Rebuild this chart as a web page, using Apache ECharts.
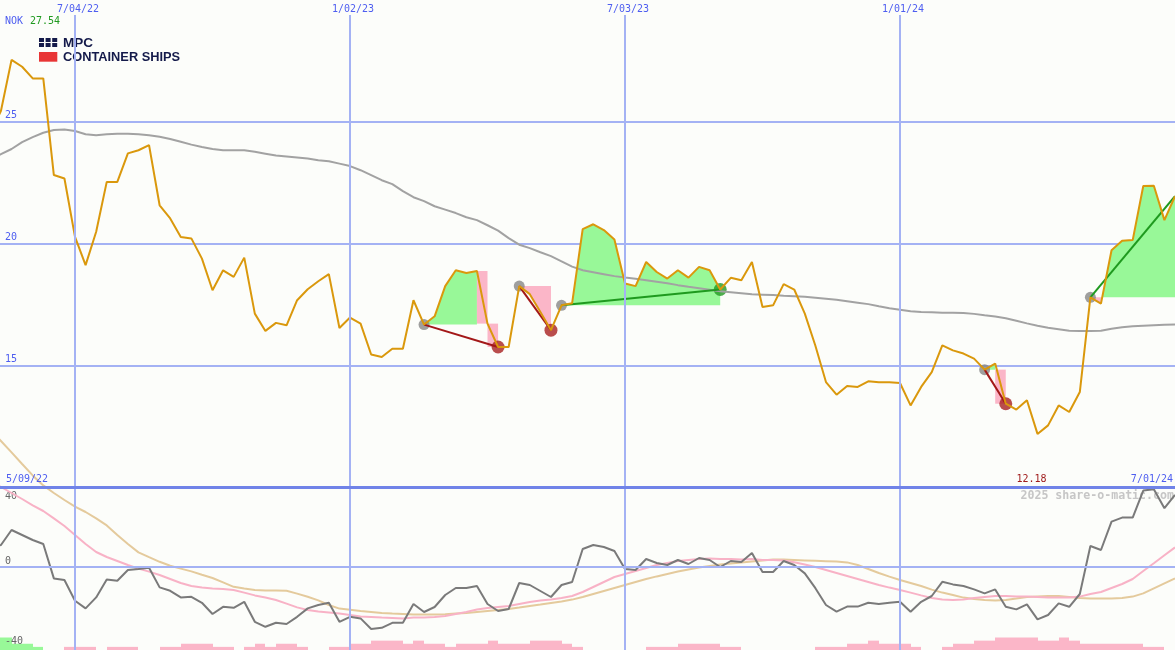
<!DOCTYPE html>
<html><head><meta charset="utf-8">
<script src="https://cdn.jsdelivr.net/npm/echarts@6/dist/echarts.min.js"></script>
<style>html,body{margin:0;padding:0;background:#fcfdfa}#c{width:1175px;height:650px}</style>
</head><body><div id="c"></div>
<script>
// ---------- DATA (weekly, index 0 = 5/09/22 ... index 112 = 7/01/24) ----------
const startDate = '5/09/22';
const endDate = '7/01/24';
const currency = 'NOK';
const dateTicks = ['7/04/22', '1/02/23', '7/03/23', '1/01/24'];
const dateTickIdx = [8, 34, 60, 86];
const priceTicks = [15, 20, 25];
const oscTicksTop = [40];
const oscTicksLow = [0, -40];

const price = [24.5, 25.45, 27.54, 27.26, 26.78, 26.78, 22.81, 22.67, 20.27, 19.11,
  20.48, 22.53, 22.53, 23.70, 23.83, 24.04, 21.57, 21.03, 20.27, 20.21,
  19.38, 18.08, 18.90, 18.63, 19.42, 17.12, 16.41, 16.74, 16.64, 17.67,
  18.12, 18.45, 18.74, 16.53, 16.96, 16.71, 15.44, 15.34, 15.68, 15.68,
  17.67, 16.67, 17.01, 18.25, 18.90, 18.79, 18.87, 16.71, 15.75, 15.75,
  18.25, 17.92, 17.19, 16.44, 17.46, 17.55, 20.59, 20.79, 20.55, 20.16,
  18.36, 18.25, 19.24, 18.83, 18.56, 18.90, 18.60, 19.04, 18.90, 18.11,
  18.59, 18.49, 19.24, 17.39, 17.46, 18.33, 18.11, 17.12, 15.80, 14.31,
  13.79, 14.15, 14.11, 14.34, 14.30, 14.30, 14.27, 13.35, 14.11, 14.72,
  15.82, 15.61, 15.48, 15.27, 14.82, 15.07, 13.42, 13.18, 13.56, 12.18,
  12.53, 13.35, 13.08, 13.90, 17.79, 17.53, 19.72, 20.11, 20.14, 22.36,
  22.37, 20.96, 21.94];

const movingAvg = [23.46, 23.67, 23.88, 24.16, 24.37, 24.55, 24.66, 24.68, 24.62, 24.49,
  24.45, 24.49, 24.51, 24.51, 24.49, 24.45, 24.38, 24.29, 24.18, 24.06,
  23.96, 23.88, 23.83, 23.83, 23.83, 23.77, 23.69, 23.61, 23.57, 23.53,
  23.49, 23.42, 23.38, 23.28, 23.18, 23.01, 22.81, 22.60, 22.44, 22.15,
  21.90, 21.74, 21.53, 21.39, 21.25, 21.08, 20.96, 20.75, 20.53, 20.22,
  19.95, 19.81, 19.64, 19.48, 19.27, 19.05, 18.90, 18.82, 18.74, 18.66,
  18.60, 18.55, 18.49, 18.43, 18.37, 18.29, 18.22, 18.16, 18.10, 18.04,
  18.00, 17.96, 17.92, 17.90, 17.88, 17.85, 17.83, 17.81, 17.77, 17.73,
  17.69, 17.63, 17.57, 17.51, 17.42, 17.34, 17.28, 17.22, 17.19, 17.18,
  17.16, 17.16, 17.15, 17.11, 17.05, 17.00, 16.93, 16.83, 16.72, 16.62,
  16.54, 16.48, 16.42, 16.41, 16.41, 16.42, 16.50, 16.56, 16.60, 16.62,
  16.64, 16.66, 16.67];

const oscillator = [9.5, 11, 18.5, 16, 13.5, 11.5, -5.7, -6.5, -16.9, -20.7,
  -15.2, -6.2, -6.9, -1.5, -1, -0.4, -10.2, -11.9, -15.2, -14.9,
  -17.9, -23.5, -19.9, -20.4, -17.4, -27.4, -29.9, -27.9, -28.5, -24.9,
  -20.7, -19, -17.9, -27.4, -24.9, -25.7, -31, -30.4, -27.9, -27.9,
  -18.5, -22.5, -20, -14, -10.5, -10.5, -9.5, -18.5, -22, -21,
  -8, -9, -12, -15, -9, -7.5, 9, 11, 10, 8,
  -1, -1.5, 4, 2, 1, 3.5, 1.5, 4.5, 3.5, 0,
  3, 2.5, 7, -2.5, -2.5, 3, 1, -3.2, -10.6, -19,
  -22.3, -19.8, -19.8, -17.9, -18.5, -17.9, -17.4, -22.4, -17.4, -14.5,
  -7.4, -8.7, -9.5, -11.2, -13.2, -11.2, -19.9, -21.2, -18.7, -26.2,
  -24, -18.2, -19.9, -13.5, 10.5, 8.5, 22.7, 24.7, 24.7, 38.2,
  38.9, 29.4, 36];

const oscFast = [42.5, 40, 37, 34, 30.8, 28, 24.3, 20.5, 16, 11.5,
  7.5, 5, 3, 1, -0.8, -2.3, -4, -6, -8, -9.5,
  -10.3, -10.7, -11, -11.5, -12.8, -14.2, -15.3, -16.5, -18.3, -20.2,
  -21.5, -22.3, -22.8, -23.3, -24, -24.7, -25, -25.3, -25.5, -25.7,
  -25.3, -25.2, -25, -24.5, -23.5, -22.5, -21.3, -20.5, -20, -19.5,
  -18.5, -17.5, -16.8, -16.3, -15.5, -14.5, -12.5, -10, -7.5, -5,
  -3.5, -2, -0.5, 1, 2, 3, 3.5, 4, 4.2, 4,
  4, 3.8, 4, 3.5, 3.5, 3.2, 2.4, 1.2, 0, -1.5,
  -3, -4.5, -6, -7.5, -9, -10.3, -11.5, -12.8, -14.2, -15.5,
  -16.3, -16.5, -16.2, -15.5, -15, -14.5, -14.5, -14.7, -14.8, -15,
  -15.2, -15.3, -15.3, -14.8, -13.5, -12.5, -10.5, -8.5, -6, -2,
  1.9, 5.9, 9.8];

const oscSlow = [68.7, 63, 57.3, 51.5, 45.8, 40.8, 37, 33.5, 30.2, 27.5,
  24.3, 20.8, 16, 11.5, 7.3, 4.9, 2.6, 0.6, -0.8, -2.2,
  -3.9, -5.5, -7.7, -9.9, -10.8, -11.5, -11.7, -11.8, -11.9, -13.3,
  -14.9, -16.7, -19, -20.8, -21.4, -22, -22.5, -23, -23.3, -23.5,
  -23.7, -23.8, -23.8, -23.6, -23.3, -23, -22.5, -22, -21.5, -21,
  -20.3, -19.5, -18.8, -18, -17.2, -16.3, -15, -13.5, -12, -10.5,
  -9, -7.5, -6, -4.7, -3.5, -2.3, -1.2, -0.3, 0.5, 1.2,
  1.8, 2.3, 2.8, 3.2, 3.8, 3.7, 3.5, 3.3, 3.1, 2.9,
  2.7, 2.3, 1, -1, -3, -4.8, -6.5, -8, -9.5, -11.3,
  -12.8, -14, -15.3, -16, -16.5, -16.8, -16.5, -15.8, -15, -14.7,
  -14.5, -14.5, -15, -15.5, -15.7, -15.8, -15.7, -15.5, -14.8, -13.2,
  -10.7, -8.2, -5.7];

// + = green level, - = pink level
const signalBars = [4, 4, 2, 2, 1, 0, 0, -1, -1, -1,
  0, -1, -1, -1, 0, 0, -1, -1, -2, -2,
  -2, -1, -1, 0, -1, -2, -1, -2, -2, -1,
  0, 0, -1, -1, -2, -2, -3, -3, -3, -2,
  -3, -2, -2, -1, -2, -2, -2, -3, -2, -2,
  -2, -3, -3, -3, -2, -1, 0, 0, 0, 0,
  0, 0, -1, -1, -1, -2, -2, -2, -2, -1,
  -1, 0, 0, 0, 0, 0, 0, 0, -1, -1,
  -1, -2, -2, -3, -2, -2, -2, -1, 0, 0,
  -1, -2, -2, -3, -3, -4, -4, -4, -4, -3,
  -3, -4, -3, -2, -2, -2, -2, -2, -2, -1,
  -1, 0, 0];

// trades
const tradeEntry = [41, 50, 54, 94, 104];
const tradeExit = [48, 53, 69, 96, 112];
const tradeClosed = [true, true, true, true, false];
const fillEnd = [46, 53, 69, 95, 112];
const boxFrom = [46, 47, 95];
const boxTo = [47, 48, 96];
const boxTop = [18.87, 16.71, 14.82];
const boxBottom = [16.71, 15.75, 13.42];

// ---------- STYLE ----------
const X_MIN = 0.908, X_MAX = 112;
const BG = '#fcfdfa';
const GRID_C = '#a4b2f4';
const SEP_C = '#7083e8';
const BLUE = '#4e5ef0';
const GREEN_T = '#209a20';
const RED_T = '#a01c1c';
const PRICE_C = '#da980c';
const MA_C = '#a2a2a2';
const FILL_G = '#98f898';
const FILL_P = '#fbb6c8';
const OSC_C = '#7a7a7a';
const OSC_FAST_C = '#f8b2c6';
const OSC_SLOW_C = '#e4ca9c';
const LOSS_C = '#a31818';
const GAIN_C = '#1f9a1f';
const MONO = '"DejaVu Sans Mono", monospace';
const T = 'rgba(0,0,0,0)';

const pairs = arr => arr.map((v, i) => [i, v]);
const vlines = {
  silent: true, symbol: ['none', 'none'], label: {show: false},
  lineStyle: {color: GRID_C, width: 2, type: 'solid'},
  emphasis: {disabled: true},
  data: dateTickIdx.map(v => ({xAxis: v}))
};

function fillRender(params, api) {
  const k = params.dataIndex;
  const a = tradeEntry[k], b = fillEnd[k], L = price[a];
  const children = [];
  [1, -1].forEach(s => {
    const pts = [api.coord([a, L])];
    for (let i = a; i <= b; i++) {
      const v = price[i];
      if (i > a) {
        const u = price[i - 1];
        if ((u - L) * (v - L) < 0) {
          const t = (L - u) / (v - u);
          pts.push(api.coord([i - 1 + t, L]));
        }
      }
      pts.push(api.coord([i, s > 0 ? Math.max(v, L) : Math.min(v, L)]));
    }
    pts.push(api.coord([b, L]));
    children.push({type: 'polygon', shape: {points: pts}, style: {fill: s > 0 ? FILL_G : FILL_P}, silent: true});
  });
  return {type: 'group', children};
}

function boxRender(params, api) {
  const k = params.dataIndex;
  const p0 = api.coord([boxFrom[k], boxTop[k]]);
  const p1 = api.coord([boxTo[k], boxBottom[k]]);
  return {type: 'rect', shape: {x: p0[0], y: p0[1], width: p1[0] - p0[0], height: p1[1] - p0[1]},
    style: {fill: FILL_P}, silent: true};
}

function barRender(params, api) {
  const i = api.value(0), lv = api.value(1);
  const p0 = api.coord([i, Math.abs(lv)]);
  const p1 = api.coord([i + 1, 0]);
  const x0 = Math.round(p0[0]), x1 = Math.round(p1[0]);
  return {type: 'rect', shape: {x: x0, y: p0[1], width: x1 - x0, height: p1[1] - p0[1]},
    style: {fill: lv > 0 ? FILL_G : FILL_P}, silent: true};
}

const series = [];
// grid 0
series.push({type: 'line', xAxisIndex: 0, yAxisIndex: 0, data: [[X_MIN, 10]], symbol: 'none',
  lineStyle: {width: 0}, silent: true, markLine: vlines});
series.push({type: 'custom', xAxisIndex: 0, yAxisIndex: 0, renderItem: fillRender,
  data: tradeEntry.map((e, k) => [e, price[e], k]), encode: {x: 0, y: 1}, silent: true});
series.push({type: 'custom', xAxisIndex: 0, yAxisIndex: 0, renderItem: boxRender,
  data: boxFrom.map((f, k) => [f, boxTop[k], k]), encode: {x: 0, y: 1}, silent: true});
series.push({type: 'line', xAxisIndex: 0, yAxisIndex: 0, data: pairs(movingAvg), symbol: 'none',
  lineStyle: {color: MA_C, width: 2}, silent: true});
tradeEntry.forEach((e, k) => {
  const x = tradeExit[k];
  const gain = price[x] > price[e];
  series.push({type: 'line', xAxisIndex: 0, yAxisIndex: 0, data: [[e, price[e]], [x, price[x]]],
    symbol: 'none', lineStyle: {color: gain ? GAIN_C : LOSS_C, width: 2}, silent: true});
});
series.push({type: 'scatter', xAxisIndex: 0, yAxisIndex: 0, symbolSize: 11,
  itemStyle: {color: '#878787'}, data: tradeEntry.map(e => [e, price[e]]), silent: true});
series.push({type: 'scatter', xAxisIndex: 0, yAxisIndex: 0, symbolSize: 13,
  itemStyle: {color: '#a82020'},
  data: tradeEntry.map((e, k) => [e, k]).filter(d => tradeClosed[d[1]] && price[tradeExit[d[1]]] < price[d[0]])
    .map(d => [tradeExit[d[1]], price[tradeExit[d[1]]]]), silent: true});
series.push({type: 'scatter', xAxisIndex: 0, yAxisIndex: 0, symbolSize: 13,
  itemStyle: {color: '#229a22'},
  data: tradeEntry.map((e, k) => [e, k]).filter(d => tradeClosed[d[1]] && price[tradeExit[d[1]]] >= price[d[0]])
    .map(d => [tradeExit[d[1]], price[tradeExit[d[1]]]]), silent: true});
series.push({type: 'line', xAxisIndex: 0, yAxisIndex: 0, data: pairs(price), symbol: 'none',
  lineStyle: {color: PRICE_C, width: 2}, silent: true});
// grid 1 (oscillator)
series.push({type: 'line', xAxisIndex: 1, yAxisIndex: 1, data: [[X_MIN, 0]], symbol: 'none',
  lineStyle: {width: 0}, silent: true,
  markLine: Object.assign({}, vlines, {data: dateTickIdx.map(v => ({xAxis: v})).concat([{yAxis: 0}])})});
// grid 2 (signal bars)
series.push({type: 'line', xAxisIndex: 2, yAxisIndex: 2, data: [[X_MIN, 0]], symbol: 'none',
  lineStyle: {width: 0}, silent: true, markLine: vlines});
series.push({type: 'custom', xAxisIndex: 2, yAxisIndex: 2, renderItem: barRender,
  data: pairs(signalBars).filter(d => d[1] !== 0), encode: {x: 0, y: 1}, silent: true});
series.push({type: 'line', xAxisIndex: 1, yAxisIndex: 1, data: pairs(oscSlow), symbol: 'none', clip: false,
  lineStyle: {color: OSC_SLOW_C, width: 2}, silent: true});
series.push({type: 'line', xAxisIndex: 1, yAxisIndex: 1, data: pairs(oscFast), symbol: 'none', clip: false,
  lineStyle: {color: OSC_FAST_C, width: 2}, silent: true});
series.push({type: 'line', xAxisIndex: 1, yAxisIndex: 1, data: pairs(oscillator), symbol: 'none', clip: false,
  lineStyle: {color: OSC_C, width: 2}, silent: true,
  markLine: {silent: true, symbol: ['none', 'none'], label: {show: false}, emphasis: {disabled: true},
    lineStyle: {color: SEP_C, width: 3, type: 'solid'}, data: [{yAxis: 40}]}});

const lowLabel = {inside: true, margin: 5, color: '#666', fontFamily: MONO, fontSize: 10, lineHeight: 12};
const option = {
  animation: false,
  backgroundColor: BG,
  grid: [
    {left: 0, right: 0, top: 0, height: 487},
    {left: 0, right: 0, top: 487, height: 160},
    {left: 0, right: 0, top: 625, height: 25}
  ],
  xAxis: [0, 1, 2].map(g => ({type: 'value', gridIndex: g, min: X_MIN, max: X_MAX, show: false})),
  yAxis: [
    {type: 'value', gridIndex: 0, min: 10, max: 30, interval: 5,
      axisLine: {show: false}, axisTick: {show: false},
      splitLine: {show: true, lineStyle: {color: [T, GRID_C, GRID_C, GRID_C, T], width: 2}},
      axisLabel: {inside: true, margin: 5, verticalAlign: 'bottom', color: BLUE, fontFamily: MONO,
        fontSize: 10, lineHeight: 12, formatter: v => priceTicks.includes(v) ? String(v) : ''}},
    {type: 'value', gridIndex: 1, min: -40, max: 40, interval: 40, z: 3,
      axisLine: {show: false}, axisTick: {show: false}, splitLine: {show: false},
      axisLabel: Object.assign({}, lowLabel, {verticalAlign: 'bottom',
        formatter: v => oscTicksLow.includes(v) ? String(v) : ''})},
    {type: 'value', gridIndex: 2, min: 0, max: 8, show: false},
    {type: 'value', gridIndex: 1, min: -40, max: 40, interval: 40, z: 3, position: 'left', offset: 0,
      axisLine: {show: false}, axisTick: {show: false}, splitLine: {show: false},
      axisLabel: Object.assign({}, lowLabel, {verticalAlign: 'top', padding: [3, 0, 0, 0],
        formatter: v => oscTicksTop.includes(v) ? String(v) : ''})}
  ],
  series
};

const chart = echarts.init(document.getElementById('c'));
chart.setOption(option);

const px = i => chart.convertToPixel({xAxisIndex: 0}, i);
const FONT10 = '10px ' + MONO;
let maxV = Math.max(...price), minV = Math.min(...price);
let minIdx = price.indexOf(minV);
const graphics = [];
dateTicks.forEach((t, k) => {
  const x = px(dateTickIdx[k]) + 3;
  graphics.push({type: 'rect', z: 100, silent: true, shape: {x: x - 24, y: 0, width: 48, height: 15}, style: {fill: BG}});
  graphics.push({type: 'text', z: 101, silent: true, x: x, y: 9,
    style: {text: t, fill: BLUE, font: FONT10, align: 'center', verticalAlign: 'middle'}});
});
graphics.push({type: 'text', z: 101, silent: true, x: 5, y: 21,
  style: {text: currency, fill: BLUE, font: FONT10, align: 'left', verticalAlign: 'middle'}});
graphics.push({type: 'text', z: 101, silent: true, x: 30, y: 21,
  style: {text: maxV.toFixed(2), fill: GREEN_T, font: FONT10, align: 'left', verticalAlign: 'middle'}});
graphics.push({type: 'text', z: 101, silent: true, x: 6, y: 479,
  style: {text: startDate, fill: BLUE, font: FONT10, align: 'left', verticalAlign: 'middle'}});
graphics.push({type: 'text', z: 101, silent: true, x: 1173, y: 479,
  style: {text: endDate, fill: BLUE, font: FONT10, align: 'right', verticalAlign: 'middle'}});
graphics.push({type: 'text', z: 101, silent: true, x: px(minIdx) + 9, y: 479,
  style: {text: minV.toFixed(2), fill: RED_T, font: FONT10, align: 'right', verticalAlign: 'middle'}});
graphics.push({type: 'text', z: 1, silent: true, x: 1174, y: 496,
  style: {text: '2025 share-o-matic.com', fill: '#c6c6c6', font: 'bold 11.6px ' + MONO, align: 'right', verticalAlign: 'middle'}});
// logo
const NAVY = '#141a4a';
const logo = [{type: 'rect', shape: {x: 36, y: 33, width: 150, height: 32}, style: {fill: BG}}];
for (let r = 0; r < 2; r++) for (let c = 0; c < 3; c++) {
  logo.push({type: 'rect', shape: {x: 39 + c * 6.6, y: 38 + r * 5, width: 5, height: 4}, style: {fill: NAVY}});
}
logo.push({type: 'rect', shape: {x: 39, y: 52, width: 18.3, height: 9.7}, style: {fill: '#e83535'}});
logo.push({type: 'text', x: 63, y: 43, style: {text: 'MPC', fill: NAVY, font: 'bold 13.5px "Liberation Sans", Arial, sans-serif', verticalAlign: 'middle'}});
logo.push({type: 'text', x: 63, y: 57, style: {text: 'CONTAINER SHIPS', fill: NAVY, font: 'bold 12.8px "Liberation Sans", Arial, sans-serif', verticalAlign: 'middle'}});
graphics.push({type: 'group', z: 100, silent: true, children: logo});
chart.setOption({graphic: graphics});
</script></body></html>
